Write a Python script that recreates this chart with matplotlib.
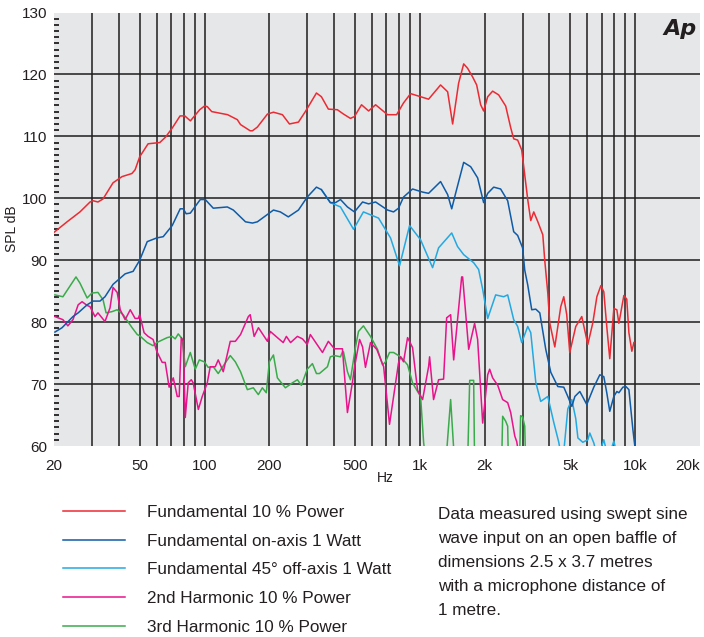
import matplotlib
matplotlib.use('Agg')
import matplotlib.pyplot as plt
from matplotlib.ticker import MultipleLocator, NullLocator

plt.rcParams['font.family'] = ['Liberation Sans', 'DejaVu Sans']

# Fundamental 10 % Power
red_f = [20, 23, 26.4, 29.4, 30.4, 32, 33.8, 37.6, 41.4, 46,
         47.6, 50, 54.7, 62, 66, 71, 77, 81, 86, 95,
         100, 103, 108, 128, 142, 147, 163, 167, 176, 196,
         209, 230, 248, 273, 294, 331, 349, 376, 414, 442,
         476, 497, 536, 578, 623, 708, 780, 840, 906, 1008,
         1098, 1248, 1346, 1420, 1514, 1598, 1666, 1758, 1836, 1916,
         1978, 2066, 2178, 2322, 2504, 2642, 2728, 2846, 2972, 3170,
         3274, 3380, 3532, 3724, 3802, 3928, 4010, 4234, 4512, 4660,
         4810, 4968, 5298, 5650, 6026, 6358, 6638, 6930, 7150, 7380,
         7620, 7960, 8220, 8400, 8860, 9140, 9350, 9650, 9860]
red_db = [94.5, 96.2, 97.8, 99.4, 99.6, 99.4, 99.9, 102.5, 103.5, 104,
          104.6, 106.7, 108.8, 109, 109.9, 111.4, 113.3, 113.3, 112.5, 114.3,
          114.9, 114.8, 114, 113.5, 112.7, 111.9, 110.9, 110.9, 111.5, 113.6,
          113.9, 113.5, 112, 112.3, 114, 117, 116.4, 114.4, 114.3, 113.6,
          112.9, 113.2, 115.1, 114.1, 115.1, 113.5, 113.5, 115.4, 116.9, 116.4,
          116, 118.3, 117.2, 112, 118.6, 121.7, 121, 119.6, 118.3, 115.1,
          114.1, 116.4, 117.3, 116.7, 114.9, 111.4, 109.6, 109.4, 107.8, 99.8,
          96.4, 97.8, 96.2, 94.1, 90, 84.7, 79.9, 76, 82.5, 84.1,
          81.2, 75.1, 79.3, 80.9, 76.4, 79.9, 84.1, 85.9, 84.9, 79.3,
          74.1, 82.2, 82, 79.8, 84.3, 83.7, 78.3, 75.3, 76.7]

# Fundamental on-axis 1 Watt
blue_f = [20.2, 21.8, 24.5, 25.9, 28.5, 30.4, 32.7, 34.5, 37.6, 42.8,
          46.6, 50, 54.2, 60, 64.3, 70.8, 77.1, 79.6, 82.2, 85.9,
          95.6, 100.8, 109.8, 127.6, 136.1, 155, 167, 176, 209, 225,
          245, 273, 300, 331, 349, 384, 406, 428, 461, 497,
          542, 578, 623, 708, 755, 796, 840, 925, 1030, 1098,
          1248, 1346, 1406, 1466, 1598, 1722, 1855, 1978, 2066, 2203,
          2372, 2558, 2728, 2846, 3000, 3070, 3170, 3308, 3454, 3606,
          3844, 4056, 4372, 4660, 4866, 5080, 5248, 5534, 5960, 6424,
          6854, 7150, 7380, 7620, 7960, 8220, 8400, 8770, 9056, 9350,
          9754, 10000]
blue_db = [78.4, 79.1, 80.9, 81.5, 82.8, 83.4, 83.4, 84.1, 86.1, 87.8,
           88.2, 90, 93, 93.6, 93.8, 95.6, 98.3, 98.3, 97.5, 97.6,
           99.8, 99.8, 98.4, 98.6, 98.1, 96.2, 96, 96.2, 98.1, 97.8,
           97, 98.1, 100.2, 101.8, 101.4, 99.3, 99.3, 99.8, 98.6, 97.8,
           99.4, 99.1, 99.4, 98.1, 97.8, 98.4, 100.2, 101.5, 101, 100.8,
           102.7, 100.6, 98.3, 100.8, 105.8, 105.1, 103.3, 99.3, 100.8, 101.8,
           101.5, 99.6, 94.6, 94, 92, 88.4, 86, 82, 82.1, 81.5,
           75.6, 71.9, 69.6, 69.5, 68, 66.4, 68, 68.8, 66.7, 69.5,
           71.5, 71.2, 68.6, 65.6, 68, 68.8, 68.6, 69.5, 69.6, 69.1,
           62.7, 59.5]

# Fundamental 45 deg off-axis 1 Watt
lblue_f = [349, 384, 428, 492, 547, 643, 731, 805, 896, 1008,
           1146, 1222, 1406, 1497, 1598, 1778, 1875, 1958, 2066, 2250,
           2450, 2558, 2728, 2846, 2972, 3170, 3274, 3454, 3642, 3928,
           4188, 4418, 4600, 4866, 5080, 5298, 5420, 5712, 6026, 6154,
           6424, 6700, 7150, 7500, 7960, 8300]
lblue_db = [101.4, 99.3, 98.6, 95, 97.8, 96.8, 93.6, 89.1, 95.6, 93.3,
            88.8, 92, 94.4, 92.2, 90.9, 89.6, 88.5, 85.3, 80.6, 84.4,
            84.1, 84.4, 80.4, 79.3, 76.7, 79.3, 78.3, 70.3, 67.2, 68,
            63.8, 60.6, 57, 66, 67.5, 64.4, 61.3, 60.6, 61, 62.1,
            60.5, 58, 61, 58, 60.8, 58]

# 2nd Harmonic 10 % Power
mag_f = [20.2, 22, 23.2, 24.5, 25.9, 27, 28.5, 29.4, 31, 32,
         34.5, 36.4, 37.6, 39.3, 40.6, 42.8, 45.2, 47.6, 49.2, 50,
         52.4, 54.7, 57.7, 60, 63.6, 65.7, 68.5, 71.6, 74.7, 76.3,
         78, 79.6, 81.4, 84, 86.8, 88.6, 93.6, 97.6, 103, 106.3,
         112.2, 115.8, 122.2, 131.7, 139, 147, 159.8, 163, 170, 178,
         196, 202, 218, 232, 240, 251, 270, 285, 300, 310,
         353, 376, 401, 437, 461, 486, 497, 525, 542, 559,
         590, 631, 679, 723, 796, 814, 840, 877, 925, 976,
         1030, 1098, 1110, 1158, 1222, 1289, 1332, 1390, 1436, 1564,
         1580, 1686, 1796, 1855, 1958, 2066, 2110, 2178, 2300, 2424,
         2558, 2642, 2760, 2818, 2900]
mag_db = [80.9, 80.4, 79.4, 80.4, 82.8, 83.3, 82.7, 82.5, 80.9, 81.5,
          80.1, 82.3, 85.6, 84.8, 82, 80.4, 82, 80.6, 80.6, 81.2,
          78.3, 77.7, 77.2, 75.3, 73.5, 73.5, 69.5, 71, 68, 68,
          77.5, 76.9, 64.6, 70.2, 70.7, 70.2, 65.9, 68, 70.2, 72.8,
          72.8, 73.9, 72, 76.9, 76.9, 78, 80.9, 81.2, 77.7, 79.1,
          76.9, 78.5, 77.5, 76.7, 77.7, 76.7, 77.7, 77.3, 76.4, 78,
          75.1, 76.9, 75.7, 75.7, 65.4, 70.2, 72.7, 77.2, 76, 72.7,
          76.7, 75.6, 72.8, 63.5, 73.4, 74.4, 73.6, 77.5, 75.9, 69,
          67.5, 72.8, 74.4, 67.5, 70.7, 70.8, 80.7, 81.2, 73.9, 87.3,
          87.3, 75.6, 79.8, 77.2, 63.7, 71.5, 72.4, 71, 69.8, 67.5,
          67, 65.4, 61.6, 60.7, 58]

# 3rd Harmonic 10 % Power
grn_f = [20.2, 22, 23.7, 25.3, 26.4, 28.5, 30, 32, 33.8, 34.9,
         37.2, 39.3, 41.9, 46.1, 48.7, 50, 54.2, 57.7, 60, 67.1,
         70.8, 73.1, 75.5, 78.8, 81.4, 85.9, 90.6, 94.6, 99.7, 104,
         109.8, 115.8, 120.9, 131.7, 139, 147, 158.1, 168.5, 177.8, 185.6,
         193.6, 200, 209, 218, 237.5, 256, 270, 281.8, 300, 317,
         331, 341.7, 372.3, 384, 401, 428, 437, 442, 461, 476,
         502, 519, 547, 590, 636, 671, 693, 723, 755, 814,
         877, 925, 976, 1008, 1041, 1070, 1318, 1390, 1451, 1666,
         1704, 1778, 1796, 2398, 2424, 2504, 2558, 2580, 2900, 2938,
         3000, 3070, 3100]
grn_db = [84.4, 84.1, 85.8, 87.3, 86.3, 83.9, 84.7, 84.8, 83.6, 81.5,
          81.7, 82, 81.2, 79.1, 78, 77.8, 76.7, 76.2, 76.7, 77.5,
          77.7, 77.3, 78.1, 77.3, 72.8, 75.1, 72.4, 73.9, 73.6, 72.7,
          72.8, 71.7, 72.7, 74.6, 73.6, 72, 69.1, 69.4, 68.3, 69.4,
          68.6, 73.6, 74.7, 71, 69.4, 70.2, 70.7, 69.8, 72.4, 73.3,
          71.7, 71.7, 72.8, 74.4, 74.6, 74.4, 75.2, 75.2, 72, 70.7,
          75.9, 78.5, 79.4, 77.7, 75.6, 73.1, 73.6, 75.1, 75.1, 74.4,
          73.1, 70.2, 68.8, 68, 60.6, 57, 57, 67.5, 57, 57,
          70.6, 70.6, 57, 57, 64.8, 64, 63.2, 57, 57, 64.9,
          64.7, 63.2, 57]

labels = ['Fundamental 10 % Power', 'Fundamental on-axis 1 Watt',
          'Fundamental 45° off-axis 1 Watt', '2nd Harmonic 10 % Power',
          '3rd Harmonic 10 % Power']
colors = ['#ec2a33', '#0f5ba7', '#22a9e2', '#e8138b', '#3aab4a']

x_ticks = [20, 50, 100, 200, 500, 1000, 2000, 5000, 10000, 20000]
x_labels = ['20', '50', '100', '200', '500', '1k', '2k', '5k', '10k', '20k']
grid_f = [30, 40, 50, 60, 70, 80, 90,
          100, 200, 300, 400, 500, 600, 700, 800, 900,
          1000, 2000, 3000, 4000, 5000, 6000, 7000, 8000, 9000, 10000]

note = ('Data measured using swept sine\nwave input on an open baffle of\n'
        'dimensions 2.5 x 3.7 metres\nwith a microphone distance of\n1 metre.')

fig = plt.figure(figsize=(7.04, 6.37), dpi=100)
ax = fig.add_axes([54 / 704, 1 - 446 / 637, 646 / 704, 433.5 / 637])
ax.set_facecolor('#e6e7e8')
for s in ax.spines.values():
    s.set_visible(False)

ax.set_xscale('log')
ax.set_xlim(20, 20000)
ax.set_ylim(60, 130)

for f in grid_f:
    ax.axvline(f, color='#1e1e1e', lw=1.1, zorder=1)
for d in range(70, 130, 10):
    ax.axhline(d, color='#1e1e1e', lw=1.1, zorder=1)

series = [(red_f, red_db), (blue_f, blue_db), (lblue_f, lblue_db),
          (mag_f, mag_db), (grn_f, grn_db)]
handles = [None] * 5
for i in [4, 3, 2, 1, 0]:
    f, d = series[i]
    handles[i], = ax.plot(f, d, color=colors[i], lw=1.1, zorder=3 + (4 - i))

ax.set_xticks(x_ticks)
ax.set_xticklabels(x_labels)
ax.xaxis.set_minor_locator(NullLocator())
ax.tick_params(axis='x', length=0, pad=9, labelsize=11, colors='#231f20')
ax.get_xticklabels()[-1].set_horizontalalignment('right')

ax.set_yticks(range(60, 131, 10))
ax.yaxis.set_minor_locator(MultipleLocator(1))
ax.tick_params(axis='y', which='major', length=0, pad=5, labelsize=11, colors='#231f20')
ax.tick_params(axis='y', which='minor', direction='in', length=3.5, width=1.3,
               color='#231f20')

fig.text(12 / 704, 1 - 229 / 637, 'SPL dB', rotation=90, ha='center', va='center',
         fontsize=10, color='#231f20')
fig.text(385 / 704, 1 - 478 / 637, 'Hz', ha='center', va='center',
         fontsize=10, color='#231f20')

ax.text(0.995, 0.985, 'Ap', transform=ax.transAxes, ha='right', va='top',
        fontsize=16, fontweight='heavy', style='italic', family='DejaVu Sans',
        color='#231f20', zorder=10)

fig.legend(handles, labels, loc='upper left', bbox_to_anchor=(63 / 704, 1 - 505 / 637),
           frameon=False, fontsize=12.3, handlelength=3.6, handletextpad=1.3,
           labelspacing=0.8, borderaxespad=0, borderpad=0, labelcolor='#231f20')

fig.text(438 / 704, 1 - 507 / 637, note, ha='left', va='top', fontsize=12.3,
         linespacing=1.74, color='#231f20')

fig.savefig('out.png', dpi=100)
